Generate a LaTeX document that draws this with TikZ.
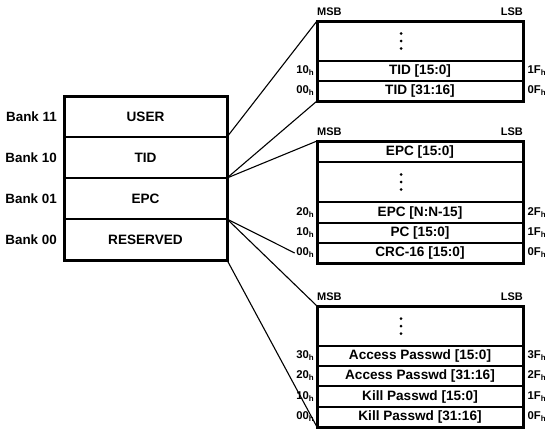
\documentclass[tikz,border=0pt]{standalone}
\usepackage{fontspec}
\setmainfont{Liberation Sans}
\begin{document}
\begin{tikzpicture}[x=1pt,y=-1pt,
  cell/.style={draw, line width=2pt, inner sep=0pt, outer sep=0pt, anchor=north west,
    font=\bfseries\fontsize{13.6}{15}\selectfont},
  bank/.style={cell, minimum width=163pt, minimum height=41pt},
  mem/.style={cell, minimum width=206pt},
  outerbox/.style={draw, line width=3pt},
  conn/.style={line width=1.1pt},
  banklbl/.style={anchor=east, inner sep=0pt, font=\bfseries\fontsize{13.4}{15}\selectfont},
  hexl/.style={anchor=east, inner sep=1.5pt, font=\bfseries\fontsize{11.3}{13}\selectfont},
  hexr/.style={anchor=west, inner sep=1.5pt, font=\bfseries\fontsize{11.3}{13}\selectfont},
  bitl/.style={anchor=base west, inner sep=0pt, font=\bfseries\fontsize{11}{12}\selectfont},
  bitr/.style={anchor=base east, inner sep=0pt, font=\bfseries\fontsize{11}{12}\selectfont},
  vdot/.style={fill=black}
]
\useasboundingbox (0,0) rectangle (545,432);

% ---- main memory banks
\node[bank] (user) at (64,96) {USER};
\node[bank] (tid) at (64,137) {TID};
\node[bank] (epc) at (64,178) {EPC};
\node[bank] (res) at (64,219) {RESERVED};
\draw[outerbox] (user.north west) rectangle (res.south east);

\node[banklbl] (b11) at (57,117) {Bank 11};
\node[banklbl] (b10) at (57,157.5) {Bank 10};
\node[banklbl] (b01) at (57,198.5) {Bank 01};
\node[banklbl] (b00) at (57,240) {Bank 00};

% ---- TID memory
\node[mem, minimum height=40pt] (tA) at (317,21) {};
\node[mem, minimum height=20pt] (tB) at (317,61) {TID [15:0]};
\node[mem, minimum height=20pt] (tC) at (317,81) {TID [31:16]};
\draw[outerbox] (tA.north west) rectangle (tC.south east);
\foreach \d in {-7.5,0,7.5} \fill[vdot] ([xshift=-19pt,yshift=\d pt]tA.center) circle (1.5pt);
\node[bitl] (tmsb) at ([yshift=6pt]tA.north west) {MSB};
\node[bitr] (tlsb) at ([yshift=6pt]tA.north east) {LSB};
\node[hexl] (t10) at ([xshift=-1pt]tB.west) {10\textsubscript{h}};
\node[hexl] (t00) at ([xshift=-1pt]tC.west) {00\textsubscript{h}};
\node[hexr] (t1F) at ([xshift=3pt]tB.east) {1F\textsubscript{h}};
\node[hexr] (t0F) at ([xshift=3pt]tC.east) {0F\textsubscript{h}};

% ---- EPC memory
\node[mem, minimum height=21pt] (eA) at (317,141) {EPC [15:0]};
\node[mem, minimum height=40pt] (eB) at (317,162) {};
\node[mem, minimum height=21pt] (eC) at (317,202) {EPC [N:N-15]};
\node[mem, minimum height=20pt] (eD) at (317,223) {PC [15:0]};
\node[mem, minimum height=20pt] (eE) at (317,243) {CRC-16 [15:0]};
\draw[outerbox] (eA.north west) rectangle (eE.south east);
\foreach \d in {-7.5,0,7.5} \fill[vdot] ([xshift=-19pt,yshift=\d pt]eB.center) circle (1.5pt);
\node[bitl] (emsb) at ([yshift=6pt]eA.north west) {MSB};
\node[bitr] (elsb) at ([yshift=6pt]eA.north east) {LSB};
\node[hexl] (e20) at ([xshift=-1pt]eC.west) {20\textsubscript{h}};
\node[hexl] (e10) at ([xshift=-1pt]eD.west) {10\textsubscript{h}};
\node[hexl] (e00) at ([xshift=-1pt]eE.west) {00\textsubscript{h}};
\node[hexr] (e2F) at ([xshift=3pt]eC.east) {2F\textsubscript{h}};
\node[hexr] (e1F) at ([xshift=3pt]eD.east) {1F\textsubscript{h}};
\node[hexr] (e0F) at ([xshift=3pt]eE.east) {0F\textsubscript{h}};

% ---- Reserved memory
\node[mem, minimum height=40pt] (rA) at (317,306) {};
\node[mem, minimum height=20pt] (rB) at (317,346) {Access Passwd [15:0]};
\node[mem, minimum height=20pt] (rC) at (317,366) {Access Passwd [31:16]};
\node[mem, minimum height=21pt] (rD) at (317,386) {Kill Passwd [15:0]};
\node[mem, minimum height=20pt] (rE) at (317,407) {Kill Passwd [31:16]};
\draw[outerbox] (rA.north west) rectangle (rE.south east);
\foreach \d in {-7.5,0,7.5} \fill[vdot] ([xshift=-19pt,yshift=\d pt]rA.center) circle (1.5pt);
\node[bitl] (rmsb) at ([yshift=6pt]rA.north west) {MSB};
\node[bitr] (rlsb) at ([yshift=6pt]rA.north east) {LSB};
\node[hexl] (r30) at ([xshift=-1pt]rB.west) {30\textsubscript{h}};
\node[hexl] (r20) at ([xshift=-1pt]rC.west) {20\textsubscript{h}};
\node[hexl] (r10) at ([xshift=-1pt]rD.west) {10\textsubscript{h}};
\node[hexl] (r00) at ([xshift=-1pt]rE.west) {00\textsubscript{h}};
\node[hexr] (r3F) at ([xshift=3pt]rB.east) {3F\textsubscript{h}};
\node[hexr] (r2F) at ([xshift=3pt]rC.east) {2F\textsubscript{h}};
\node[hexr] (r1F) at ([xshift=3pt]rD.east) {1F\textsubscript{h}};
\node[hexr] (r0F) at ([xshift=3pt]rE.east) {0F\textsubscript{h}};

% ---- connectors
\draw[conn] (tid.north east) -- (tA.north west);
\draw[conn] (tid.south east) -- (tC.south west);
\draw[conn] (epc.north east) -- (eA.north west);
\draw[conn] (epc.south east) -- (e00.west);
\draw[conn] (res.north east) -- (rA.north west);
\draw[conn] (res.south east) -- (rE.south west);
\end{tikzpicture}
\end{document}
